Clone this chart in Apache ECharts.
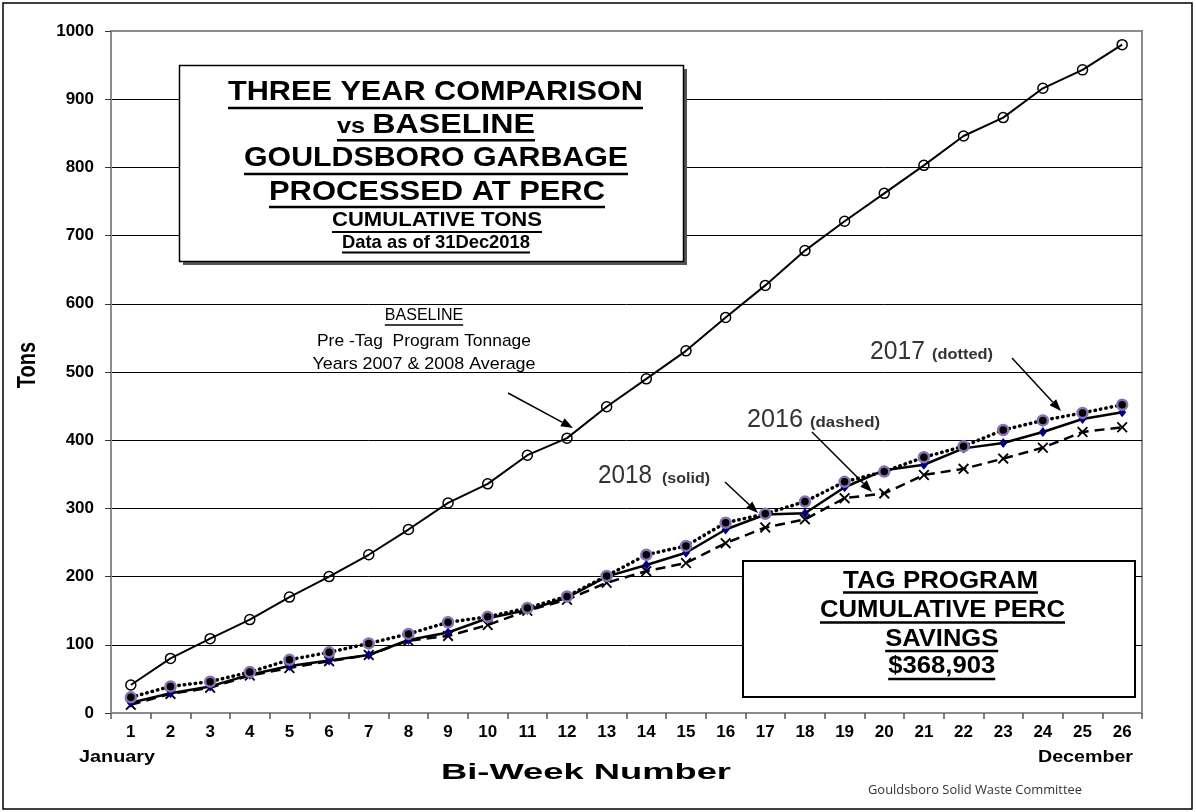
<!DOCTYPE html>
<html><head><meta charset="utf-8">
<script src="https://cdn.jsdelivr.net/npm/echarts@6/dist/echarts.min.js"></script>
<style>html,body{margin:0;padding:0;background:#fff}#c{width:1196px;height:812px}</style>
</head><body><div id="c"></div>
<script>
// ---- data ----
const categories = ['1','2','3','4','5','6','7','8','9','10','11','12','13','14','15','16','17','18','19','20','21','22','23','24','25','26'];
const baseline = [41, 80, 109, 137, 170, 200, 232, 269, 308, 336, 378, 403, 449, 490, 531, 580, 627, 678, 721, 762, 803, 846, 873, 916, 943, 980];
const y2016 = [12, 28, 37, 55, 66, 76, 85, 106, 113, 129, 150, 166, 191, 208, 220, 249, 272, 284, 315, 322, 349, 358, 373, 389, 412, 419];
const y2017 = [23, 39, 46, 60, 78, 89, 102, 116, 133, 141, 154, 171, 201, 232, 245, 279, 292, 310, 339, 354, 375, 391, 415, 429, 440, 452];
const y2018 = [15, 29, 39, 56, 69, 77, 85, 107, 118, 139, 151, 169, 200, 217, 235, 269, 291, 293, 331, 356, 364, 388, 396, 412, 431, 441];
const seriesNames = ['Baseline (2007 & 2008 Average)', '2016', '2018', '2017'];

// ---- helpers for decorations ----
const FONT = "'Liberation Sans', Arial, sans-serif";
const ctx = document.createElement('canvas').getContext('2d');
function measure(text, size, weight, family) {
  ctx.font = (weight || 'normal') + ' ' + size + 'px ' + (family || FONT);
  return ctx.measureText(text).width;
}
const graphics = [];
function addText(o) {
  const weight = o.weight || 'bold';
  const fam = o.family || FONT;
  const nat = measure(o.text, o.size, weight, fam);
  const s = o.width ? o.width / nat : (o.scale || 1);
  const align = o.align || 'center';
  const el = {
    type: 'text', x: o.x, y: o.y, scaleX: s, z: o.z || 120, silent: true,
    style: { text: o.text, fill: o.color || '#000', fontSize: o.size, fontWeight: weight,
             fontFamily: fam, align: align, verticalAlign: 'middle' }
  };
  if (o.rotation) { el.rotation = o.rotation; el.scaleX = 1; el.scaleY = o.scaleY || 1; }
  graphics.push(el);
  const W = nat * s;
  if (o.ul) {
    const left = align === 'center' ? o.x - W / 2 : (align === 'right' ? o.x - W : o.x);
    graphics.push({ type: 'rect', z: o.z || 120, silent: true,
      shape: { x: left, y: o.ul - (o.t || 2) / 2, width: W, height: o.t || 2 },
      style: { fill: o.color || '#000' } });
  }
  return W;
}
function arrow(x1, y1, x2, y2) {
  const ang = Math.atan2(y2 - y1, x2 - x1);
  const L = 12, H = 4.5;
  const bx = x2 - L * Math.cos(ang), by = y2 - L * Math.sin(ang);
  graphics.push({ type: 'line', z: 115, silent: true, shape: { x1: x1, y1: y1, x2: bx, y2: by },
    style: { stroke: '#000', lineWidth: 1.5 } });
  graphics.push({ type: 'polygon', z: 115, silent: true,
    shape: { points: [[x2, y2], [bx + H * Math.sin(ang), by - H * Math.cos(ang)], [bx - H * Math.sin(ang), by + H * Math.cos(ang)]] },
    style: { fill: '#000' } });
}

// outer frame
graphics.push({ type: 'rect', z: 1, silent: true, shape: { x: 3, y: 3, width: 1189, height: 806 },
  style: { fill: 'rgba(0,0,0,0)', stroke: '#000', lineWidth: 1.5 } });

// title box
graphics.push({ type: 'rect', z: 100, silent: true, shape: { x: 183, y: 69, width: 504, height: 196 }, style: { fill: '#555' } });
graphics.push({ type: 'rect', z: 101, silent: true, shape: { x: 179.5, y: 65.5, width: 504, height: 196 },
  style: { fill: '#fff', stroke: '#000', lineWidth: 1.5 } });
addText({ text: 'THREE YEAR COMPARISON', x: 435.5, y: 92, size: 28, width: 415, ul: 108, t: 2.5 });
(function () {
  const left = 337, total = 198;
  const wv = measure('vs ', 22, 'bold'), wb = measure('BASELINE', 28, 'bold');
  const s = total / (wv + wb);
  graphics.push({ type: 'text', x: left, y: 127, scaleX: s, z: 120, silent: true,
    style: { text: 'vs', fill: '#000', fontSize: 22, fontWeight: 'bold', fontFamily: FONT, align: 'left', verticalAlign: 'middle' } });
  graphics.push({ type: 'text', x: left + wv * s, y: 125, scaleX: s, z: 120, silent: true,
    style: { text: 'BASELINE', fill: '#000', fontSize: 28, fontWeight: 'bold', fontFamily: FONT, align: 'left', verticalAlign: 'middle' } });
  graphics.push({ type: 'rect', z: 120, silent: true, shape: { x: left, y: 139, width: total, height: 2.5 }, style: { fill: '#000' } });
})();
addText({ text: 'GOULDSBORO GARBAGE', x: 436, y: 158, size: 28, width: 384, ul: 174, t: 2.5 });
addText({ text: 'PROCESSED AT PERC', x: 437, y: 192, size: 28, width: 336, ul: 207, t: 2.5 });
addText({ text: 'CUMULATIVE TONS', x: 437, y: 220, size: 20, width: 210, ul: 232, t: 2 });
addText({ text: 'Data as of 31Dec2018', x: 436, y: 243, size: 19, width: 188, ul: 252.5, t: 2 });

// savings box
graphics.push({ type: 'rect', z: 101, silent: true, shape: { x: 743, y: 561, width: 392, height: 136 },
  style: { fill: '#fff', stroke: '#000', lineWidth: 2 } });
addText({ text: 'TAG PROGRAM', x: 940.5, y: 581.5, size: 24, width: 195, ul: 592.5, t: 2.5 });
addText({ text: 'CUMULATIVE PERC', x: 942.5, y: 610.5, size: 24, width: 245, ul: 622.5, t: 2.5 });
addText({ text: 'SAVINGS', x: 941.7, y: 639, size: 24, width: 113, ul: 651, t: 2.5 });
addText({ text: '$368,903', x: 941.7, y: 666.5, size: 24, width: 107, ul: 679, t: 2.5 });

// baseline annotation
addText({ text: 'BASELINE', x: 424, y: 316, size: 16, weight: 'normal', ul: 325, t: 1.5 });
addText({ text: 'Pre -Tag  Program Tonnage', x: 424, y: 341, size: 17, weight: 'normal', width: 214 });
addText({ text: 'Years 2007 & 2008 Average', x: 424, y: 364, size: 17, weight: 'normal', width: 223 });
arrow(508, 393, 573, 428);

// year annotations
addText({ text: '2018', x: 598, y: 476, size: 25, weight: 'normal', align: 'left', color: '#333', width: 54 });
addText({ text: '(solid)', x: 662, y: 479, size: 14, weight: 'bold', align: 'left', color: '#333', width: 48 });
arrow(725, 482, 758, 513);
addText({ text: '2016', x: 747, y: 420, size: 25, weight: 'normal', align: 'left', color: '#333', width: 56 });
addText({ text: '(dashed)', x: 810, y: 423, size: 14, weight: 'bold', align: 'left', color: '#333', width: 70 });
arrow(812, 432, 872, 492);
addText({ text: '2017', x: 870, y: 352.5, size: 25, weight: 'normal', align: 'left', color: '#333', width: 55 });
addText({ text: '(dotted)', x: 932, y: 355, size: 14, weight: 'bold', align: 'left', color: '#333', width: 61 });
arrow(1012, 358, 1061, 411);

// axis titles and extra labels
addText({ text: 'Tons', x: 27.5, y: 365, size: 20, rotation: Math.PI / 2, scaleY: 1.3 });
addText({ text: 'Bi-Week Number', x: 586, y: 773, size: 22, width: 290 });
addText({ text: 'January', x: 117, y: 757, size: 17, width: 76 });
addText({ text: 'December', x: 1085.5, y: 757, size: 17, width: 95 });
addText({ text: 'Gouldsboro Solid Waste Committee', x: 975, y: 791, size: 12, weight: 'normal', family: "'Open Sans', 'Noto Sans', sans-serif", color: '#333', width: 214 });

// ---- chart ----
const splitColors = [];
for (let i = 0; i < 11; i++) splitColors.push(i === 10 ? '#8c8c8c' : '#000');
const xPath = 'path://M0,1.2L1.2,0L5,3.8L8.8,0L10,1.2L6.2,5L10,8.8L8.8,10L5,6.2L1.2,10L0,8.8L3.8,5Z';

const chart = echarts.init(document.getElementById('c'), null, { renderer: 'canvas' });
chart.setOption({
  animation: false,
  backgroundColor: '#fff',
  grid: { left: 111, right: 54, top: 31, bottom: 99, show: true, borderColor: '#8c8c8c', borderWidth: 2, backgroundColor: '#fff' },
  xAxis: {
    type: 'category', data: categories, boundaryGap: true,
    axisLine: { lineStyle: { color: '#8c8c8c', width: 2 } },
    axisTick: { show: true, interval: 0, length: 6, lineStyle: { color: '#555', width: 1.5 } },
    axisLabel: { interval: 0, color: '#000', fontWeight: 'bold', fontSize: 17, fontFamily: FONT, margin: 11 },
    splitLine: { show: false }
  },
  yAxis: {
    type: 'value', min: 0, max: 1000, interval: 100,
    axisLine: { show: true, lineStyle: { color: '#8c8c8c', width: 2 } },
    axisTick: { show: true, length: 6, lineStyle: { color: '#333', width: 1 } },
    axisLabel: { color: '#000', fontWeight: 'bold', fontSize: 17, fontFamily: FONT, margin: 17,
      formatter: function (v) { return String(v); } },
    splitLine: { show: true, lineStyle: { color: splitColors, width: 1 } }
  },
  series: [
    { name: seriesNames[0], type: 'line', data: baseline, symbol: 'circle', symbolSize: 10, z: 3,
      itemStyle: { color: 'rgba(255,255,255,0)', borderColor: '#000', borderWidth: 1.5 },
      lineStyle: { color: '#000', width: 2 }, emphasis: { disabled: true } },
    { name: seriesNames[1], type: 'line', data: y2016, symbol: xPath, symbolSize: 11, z: 4,
      itemStyle: { color: '#000' },
      lineStyle: { color: '#000', width: 2.5, type: [10, 6] }, emphasis: { disabled: true } },
    { name: seriesNames[2], type: 'line', data: y2018, symbol: 'diamond', symbolSize: [8, 10], z: 5,
      itemStyle: { color: '#00007f' },
      lineStyle: { color: '#000', width: 2.5 }, emphasis: { disabled: true } },
    { name: seriesNames[3], type: 'line', data: y2017, symbol: 'circle', symbolSize: 10, z: 6,
      itemStyle: { color: '#000', borderColor: '#8a70b4', borderWidth: 2.5 },
      lineStyle: { color: '#000', width: 3.5, type: [0.5, 5], cap: 'round' }, emphasis: { disabled: true } }
  ],
  graphic: { elements: graphics }
});
</script>
</body></html>
